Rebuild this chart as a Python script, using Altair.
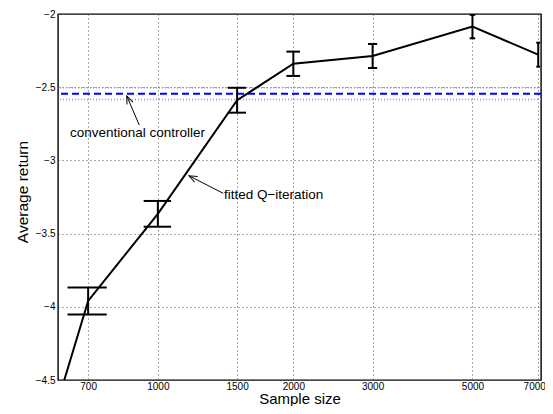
import altair as alt
import pandas as pd

# ---- data ----
sample_size = [500, 700, 1000, 1500, 2000, 3000, 5000, 7000]
avg_return = [-5.45, -3.96, -3.365, -2.589, -2.34, -2.287, -2.086, -2.278]
err = [0.09, 0.092, 0.088, 0.085, 0.083, 0.082, 0.080, 0.082]

conv_mean = [-2.544]
conv_lo = [-2.584]
conv_hi = [-2.504]

x_ticks = [700, 1000, 1500, 2000, 3000, 5000, 7000]
y_ticks = [-2, -2.5, -3, -3.5, -4, -4.5]

ann_text = ["conventional controller", "fitted Q\u2212iteration"]
ann_x = [638, 1402]
ann_y = [-2.811, -3.236]
arrow_tail_x = [909, 1397]
arrow_tail_y = [-2.758, -3.225]
arrow_head_x = [853, 1173]
arrow_head_y = [-2.56, -3.105]
arrow_angle = [336.5, 297.2]

CAP = 70  # half cap width in data units

FONT = "Liberation Sans"

df = pd.DataFrame({"n": sample_size, "r": avg_return, "e": err})
df["lo"] = df["r"] - df["e"]
df["hi"] = df["r"] + df["e"]
df["cl"] = df["n"] - CAP
df["cr"] = df["n"] + CAP

conv = pd.DataFrame({"m": conv_mean, "lo": conv_lo, "hi": conv_hi})
ann = pd.DataFrame({"x": ann_x, "y": ann_y, "t": ann_text})
arr = pd.DataFrame({"x": arrow_tail_x, "y": arrow_tail_y,
                    "x2": arrow_head_x, "y2": arrow_head_y, "a": arrow_angle})

xs = alt.Scale(type="log", domain=[600, 7100], nice=False)
ys = alt.Scale(domain=[-4.5, -2], nice=False, zero=False)

xaxis = alt.Axis(values=x_ticks, format="d", title="Sample size",
                 grid=True, gridDash=[1, 3], gridColor="#555", gridWidth=1,
                 ticks=False, domain=False, labelFontSize=10, labelFont=FONT,
                 labelPadding=1.5, labelColor="#000",
                 labelOffset={"condition": {"test": "datum.value == 7000", "value": -4},
                              "value": 0},
                 titleFont=FONT, titleFontSize=15, titleFontWeight="normal",
                 titleColor="#000", titleBaseline="alphabetic", titleY=23.5)
yaxis = alt.Axis(values=y_ticks, format=".1~f", title="Average return",
                 grid=True, gridDash=[1, 3], gridColor="#555", gridWidth=1,
                 ticks=False, domain=False, labelFontSize=10, labelFont=FONT,
                 labelPadding=3, labelColor="#000",
                 titleFont=FONT, titleFontSize=15.5, titleFontWeight="normal",
                 titleColor="#000", titleAngle=270, titleBaseline="middle",
                 titleAlign="center", titleX=-35.5, titleY=177.5)

base = alt.Chart(df)

grid_layer = base.mark_point(opacity=0).encode(
    x=alt.X("n:Q", scale=xs, axis=xaxis),
    y=alt.Y("r:Q", scale=ys, axis=yaxis),
)

conv_dots_lo = alt.Chart(conv).mark_rule(color="#8c8cff", strokeWidth=1.5, strokeDash=[1, 2]).encode(
    y=alt.Y("lo:Q", scale=ys))
conv_dots_hi = alt.Chart(conv).mark_rule(color="#8c8cff", strokeWidth=1.5, strokeDash=[1, 2]).encode(
    y=alt.Y("hi:Q", scale=ys))
conv_line = alt.Chart(conv).mark_rule(color="#0000ff", strokeWidth=2, strokeDash=[7, 4]).encode(
    y=alt.Y("m:Q", scale=ys))

ebar = base.mark_rule(color="black", strokeWidth=2, clip=True).encode(
    x=alt.X("n:Q", scale=xs), y=alt.Y("lo:Q", scale=ys), y2="hi:Q")
cap_lo = base.mark_rule(color="black", strokeWidth=2, clip=True).encode(
    x=alt.X("cl:Q", scale=xs), x2="cr:Q", y=alt.Y("lo:Q", scale=ys))
cap_hi = base.mark_rule(color="black", strokeWidth=2, clip=True).encode(
    x=alt.X("cl:Q", scale=xs), x2="cr:Q", y=alt.Y("hi:Q", scale=ys))

line = base.mark_line(color="black", strokeWidth=2, clip=True).encode(
    x=alt.X("n:Q", scale=xs), y=alt.Y("r:Q", scale=ys))

shaft = alt.Chart(arr).mark_rule(color="black", strokeWidth=1).encode(
    x=alt.X("x:Q", scale=xs), y=alt.Y("y:Q", scale=ys), x2="x2:Q", y2="y2:Q")
head = alt.Chart(arr).mark_point(shape="M -0.4 1 L 0 0 L 0.4 1", size=256,
                                  filled=False, stroke="black", strokeWidth=1,
                                  opacity=1).encode(
    x=alt.X("x2:Q", scale=xs), y=alt.Y("y2:Q", scale=ys),
    angle=alt.Angle("a:Q", scale=None))

texts = alt.Chart(ann).mark_text(align="left", baseline="middle", font=FONT,
                                 fontSize=13.5, color="black").encode(
    x=alt.X("x:Q", scale=xs), y=alt.Y("y:Q", scale=ys), text="t:N")

chart = alt.layer(grid_layer, conv_dots_lo, conv_dots_hi, conv_line,
                  ebar, cap_lo, cap_hi, line, shaft, head, texts).properties(
    width=483, height=366,
    autosize=alt.AutoSizeParams(type="none"),
    padding={"left": 50, "top": 6, "right": 4, "bottom": 26},
    background="white",
).configure_view(stroke="black", strokeWidth=1.4)

chart.save("out.html", embed_options={"renderer": "svg", "actions": False})
